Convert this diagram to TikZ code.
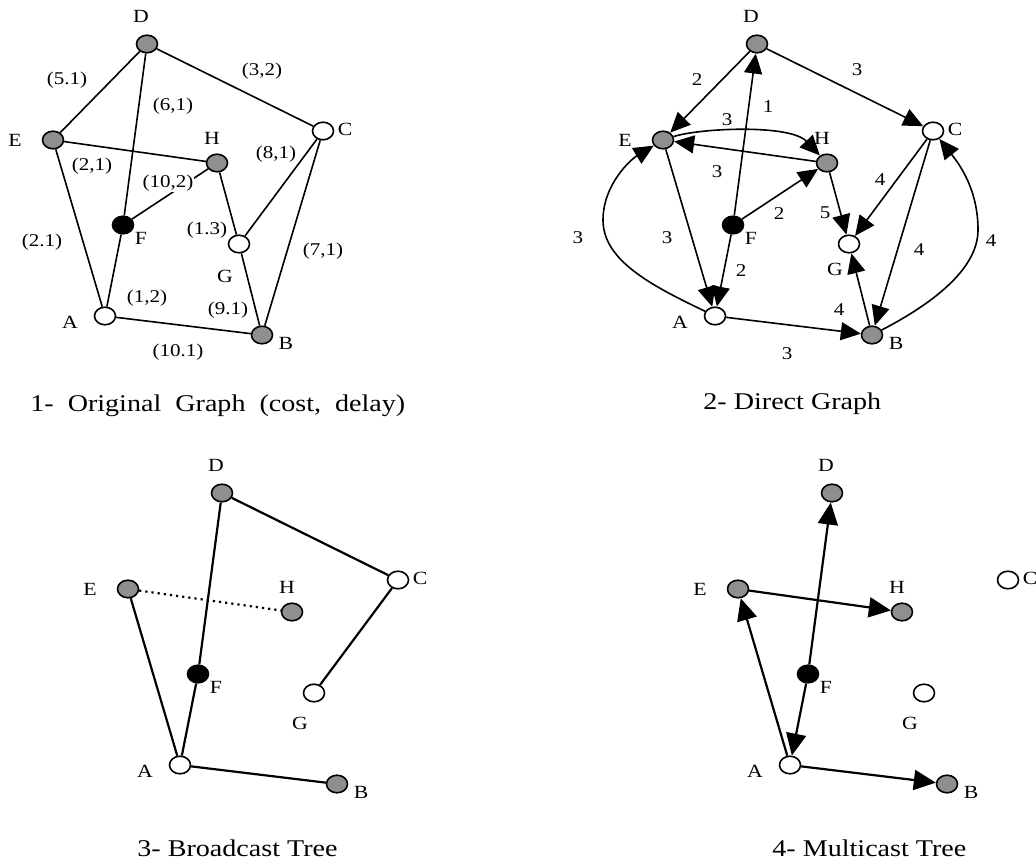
\documentclass[tikz,border=0pt]{standalone}
\usepackage{fontspec}
\setmainfont[FakeStretch=1.17]{Liberation Serif}
\usetikzlibrary{arrows.meta,shapes.geometric}

\definecolor{nodegray}{gray}{0.56}

\tikzset{
  gnode/.style={ellipse, draw, line width=0.8pt, minimum width=10.5pt, minimum height=8.8pt, inner sep=0pt},
  grey/.style={gnode, fill=nodegray},
  wht/.style={gnode, fill=white},
  blk/.style={gnode, fill=black},
  nlbl/.style={font=\fontsize{9.3}{10}\selectfont, inner sep=0pt},
  elbl/.style={font=\fontsize{9}{10}\selectfont, inner sep=0.5pt},
  capt/.style={font=\fontsize{12}{14}\selectfont, inner sep=0pt, anchor=base west},
  edge/.style={line width=0.8pt},
  dir/.style={line width=0.8pt, -{Triangle[length=10pt,width=9pt]}},
  tree/.style={line width=1.1pt},
  treedir/.style={line width=1.1pt, -{Triangle[length=11pt,width=10pt]}},
}

\begin{document}
\begin{tikzpicture}[x=0.5pt, y=-0.5pt]
% one px of the sheet is one unit, y runs down
\useasboundingbox (0,0) rectangle (1036,861);
% the eight routers with their letters, #1 = panel, #2 = drop of the G letter
\newcommand{\netnodes}[2]{%
  \node[grey] (D#1) at (147,44) {};
  \node[grey] (E#1) at (53,140) {};
  \node[grey] (H#1) at (217,163) {};
  \node[wht]  (C#1) at (323,131) {};
  \node[blk]  (F#1) at (123,225) {};
  \node[wht]  (G#1) at (239,244) {};
  \node[wht]  (A#1) at (105,316) {};
  \node[grey] (B#1) at (262,335) {};
  \node[nlbl] (lD#1) at (141,16) {D};
  \node[nlbl] (lE#1) at (15,140) {E};
  \node[nlbl] (lH#1) at (212,138) {H};
  \node[nlbl] (lC#1) at (345,129) {C};
  \node[nlbl] (lF#1) at (141,238) {F};
  \node[nlbl] (lG#1) at (225,#2) {G};
  \node[nlbl] (lA#1) at (70,322) {A};
  \node[nlbl] (lB#1) at (286,343) {B};
}

% 1 - original graph
\begin{scope}
  \netnodes{1}{276}
  \draw[edge] (D1) -- (E1);
  \draw[edge] (D1) -- (F1);
  \draw[edge] (D1) -- (C1);
  \draw[edge] (E1) -- (H1);
  \draw[edge] (E1) -- (A1);
  \draw[edge] (H1) -- (F1);
  \draw[edge] (H1) -- (G1);
  \draw[edge] (C1) -- (G1);
  \draw[edge] (C1) -- (B1);
  \draw[edge] (F1) -- (A1);
  \draw[edge] (G1) -- (B1);
  \draw[edge] (A1) -- (B1);
  \node[elbl] (w1) at (67,80) {(5.1)};
  \node[elbl] (w2) at (262,71) {(3,2)};
  \node[elbl] (w3) at (173,106) {(6,1)};
  \node[elbl] (w4) at (92,166) {(2,1)};
  \node[elbl] (w5) at (276,154) {(8,1)};
  \node[elbl, fill=white] (w6) at (168,183) {(10,2)};
  \node[elbl] (w7) at (207,230) {(1.3)};
  \node[elbl] (w8) at (42,242) {(2.1)};
  \node[elbl] (w9) at (323,251) {(7,1)};
  \node[elbl] (w10) at (147,298) {(1,2)};
  \node[elbl] (w11) at (228,310) {(9.1)};
  \node[elbl] (w12) at (178,352) {(10.1)};
\end{scope}

% 2 - direct graph
\begin{scope}[shift={(610,0)}]
  \netnodes{2}{269}
  \draw[dir] (D2) -- (E2);
  \draw[dir] (D2) -- (C2);
  \draw[dir] (F2) -- (D2);
  \draw[dir] (E2) .. controls (90,128) and (180,124) .. (H2);
  \draw[dir] (H2) -- (E2);
  \draw[dir] (F2) -- (H2);
  \draw[dir] (H2) -- (G2);
  \draw[dir] (C2) -- (G2);
  \draw[dir] (C2) -- (B2);
  \draw[dir] (B2) -- (G2);
  \draw[dir] (E2) -- (A2);
  \draw[dir] (F2) -- (A2);
  \draw[dir] (A2) -- (B2);
  \draw[dir] (A2) .. controls (40,285) and (-7,260) .. (-7,220) .. controls (-7,185) and (20,160) .. (E2);
  \draw[dir] (B2) .. controls (320,305) and (368,270) .. (368,230) .. controls (368,190) and (350,165) .. (C2);
  \node[elbl] (c1) at (87,80) {2};
  \node[elbl] (c2) at (247,70) {3};
  \node[elbl] (c3) at (158,107) {1};
  \node[elbl] (c4) at (117,120) {3};
  \node[elbl] (c5) at (107,172) {3};
  \node[elbl] (c6) at (169,214) {2};
  \node[elbl] (c7) at (215,213) {5};
  \node[elbl] (c8) at (270,180) {4};
  \node[elbl] (c9) at (309,250) {4};
  \node[elbl] (c10) at (229,310) {4};
  \node[elbl] (c11) at (57,238) {3};
  \node[elbl] (c12) at (131,271) {2};
  \node[elbl] (c13) at (177,354) {3};
  \node[elbl] (c14) at (-32,238) {3};
  \node[elbl] (c15) at (381,241) {4};
\end{scope}

% 3 - broadcast tree
\begin{scope}[shift={(75,449)}]
  \netnodes{3}{274}
  \draw[tree] (D3) -- (C3);
  \draw[tree] (D3) -- (F3);
  \draw[tree] (C3) -- (G3);
  \draw[tree] (E3) -- (A3);
  \draw[tree] (F3) -- (A3);
  \draw[tree] (A3) -- (B3);
  \draw[tree, dotted] (E3) -- (H3);
\end{scope}

% 4 - multicast tree
\begin{scope}[shift={(685,449)}]
  \netnodes{4}{274}
  \draw[treedir] (F4) -- (D4);
  \draw[treedir] (F4) -- (A4);
  \draw[treedir] (A4) -- (E4);
  \draw[treedir] (E4) -- (H4);
  \draw[treedir] (A4) -- (B4);
\end{scope}

% captions
\node[capt] (cap1) at (30,411) {1-\hspace{7pt}Original\hspace{7pt}Graph\hspace{7pt}(cost,\hspace{7pt}delay)};
\node[capt] (cap2) at (703,409) {2- Direct Graph};
\node[capt] (cap3) at (137,856) {3- Broadcast Tree};
\node[capt] (cap4) at (772,856) {4- Multicast Tree};
\end{tikzpicture}
\end{document}
